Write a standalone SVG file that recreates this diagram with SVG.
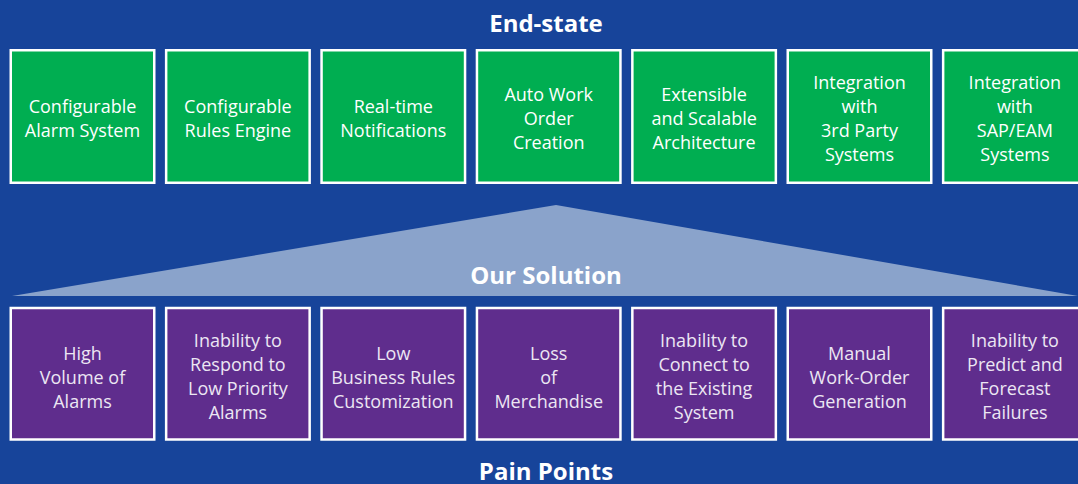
<svg xmlns="http://www.w3.org/2000/svg" width="1078" height="484" viewBox="0 0 1078 484">
<style>
.bg{fill:#17449a}
.tri{fill:#8aa3cb}
.g{fill:#00ae51;stroke:#ffffff;stroke-width:2.5}
.p{fill:#5f2d8d;stroke:#ffffff;stroke-width:2.5}
.t{font-family:"Open Sans","Liberation Sans",sans-serif;font-size:18px;fill:#ffffff;text-anchor:middle}
.tp{fill:#ece6f3}
.h{font-family:"Open Sans","Liberation Sans",sans-serif;font-size:24px;font-weight:bold;fill:#ffffff;text-anchor:middle}
</style>
<rect class="bg" x="0" y="0" width="1078" height="484"/>
<polygon class="tri" points="556,205 1078,296 12,296"/>
<text id="title-end" class="h" x="546" y="32">End-state</text>
<text id="title-sol" class="h" x="546" y="284">Our Solution</text>
<text id="title-pain" class="h" x="546" y="480">Pain Points</text>
<g id="end-1"><rect class="g" x="10.75" y="50.25" width="143.5" height="132.5"/><text class="t"><tspan x="82.5" y="113">Configurable</tspan><tspan x="82.5" y="137">Alarm System</tspan></text></g>
<g id="end-2"><rect class="g" x="166.15" y="50.25" width="143.5" height="132.5"/><text class="t"><tspan x="237.9" y="113">Configurable</tspan><tspan x="237.9" y="137">Rules Engine</tspan></text></g>
<g id="end-3"><rect class="g" x="321.55" y="50.25" width="143.5" height="132.5"/><text class="t"><tspan x="393.3" y="113">Real-time</tspan><tspan x="393.3" y="137">Notifications</tspan></text></g>
<g id="end-4"><rect class="g" x="476.95" y="50.25" width="143.5" height="132.5"/><text class="t"><tspan x="548.7" y="101">Auto Work</tspan><tspan x="548.7" y="125">Order</tspan><tspan x="548.7" y="149">Creation</tspan></text></g>
<g id="end-5"><rect class="g" x="632.35" y="50.25" width="143.5" height="132.5"/><text class="t"><tspan x="704.1" y="101">Extensible</tspan><tspan x="704.1" y="125">and Scalable</tspan><tspan x="704.1" y="149">Architecture</tspan></text></g>
<g id="end-6"><rect class="g" x="787.75" y="50.25" width="143.5" height="132.5"/><text class="t"><tspan x="859.5" y="89">Integration</tspan><tspan x="859.5" y="113">with</tspan><tspan x="859.5" y="137">3rd Party</tspan><tspan x="859.5" y="161">Systems</tspan></text></g>
<g id="end-7"><rect class="g" x="943.15" y="50.25" width="143.5" height="132.5"/><text class="t"><tspan x="1014.9" y="89">Integration</tspan><tspan x="1014.9" y="113">with</tspan><tspan x="1014.9" y="137">SAP/EAM</tspan><tspan x="1014.9" y="161">Systems</tspan></text></g>
<g id="pain-1"><rect class="p" x="10.75" y="308" width="143.5" height="131.5"/><text class="t tp"><tspan x="82.5" y="360">High</tspan><tspan x="82.5" y="384">Volume of</tspan><tspan x="82.5" y="408">Alarms</tspan></text></g>
<g id="pain-2"><rect class="p" x="166.15" y="308" width="143.5" height="131.5"/><text class="t tp"><tspan x="237.9" y="347">Inability to</tspan><tspan x="237.9" y="371">Respond to</tspan><tspan x="237.9" y="395">Low Priority</tspan><tspan x="237.9" y="419">Alarms</tspan></text></g>
<g id="pain-3"><rect class="p" x="321.55" y="308" width="143.5" height="131.5"/><text class="t tp"><tspan x="393.3" y="360">Low</tspan><tspan x="393.3" y="384">Business Rules</tspan><tspan x="393.3" y="408">Customization</tspan></text></g>
<g id="pain-4"><rect class="p" x="476.95" y="308" width="143.5" height="131.5"/><text class="t tp"><tspan x="548.7" y="360">Loss</tspan><tspan x="548.7" y="384">of</tspan><tspan x="548.7" y="408">Merchandise</tspan></text></g>
<g id="pain-5"><rect class="p" x="632.35" y="308" width="143.5" height="131.5"/><text class="t tp"><tspan x="704.1" y="347">Inability to</tspan><tspan x="704.1" y="371">Connect to</tspan><tspan x="704.1" y="395">the Existing</tspan><tspan x="704.1" y="419">System</tspan></text></g>
<g id="pain-6"><rect class="p" x="787.75" y="308" width="143.5" height="131.5"/><text class="t tp"><tspan x="859.5" y="360">Manual</tspan><tspan x="859.5" y="384">Work-Order</tspan><tspan x="859.5" y="408">Generation</tspan></text></g>
<g id="pain-7"><rect class="p" x="943.15" y="308" width="143.5" height="131.5"/><text class="t tp"><tspan x="1014.9" y="347">Inability to</tspan><tspan x="1014.9" y="371">Predict and</tspan><tspan x="1014.9" y="395">Forecast</tspan><tspan x="1014.9" y="419">Failures</tspan></text></g>
<g id="connectors"></g>
</svg>
